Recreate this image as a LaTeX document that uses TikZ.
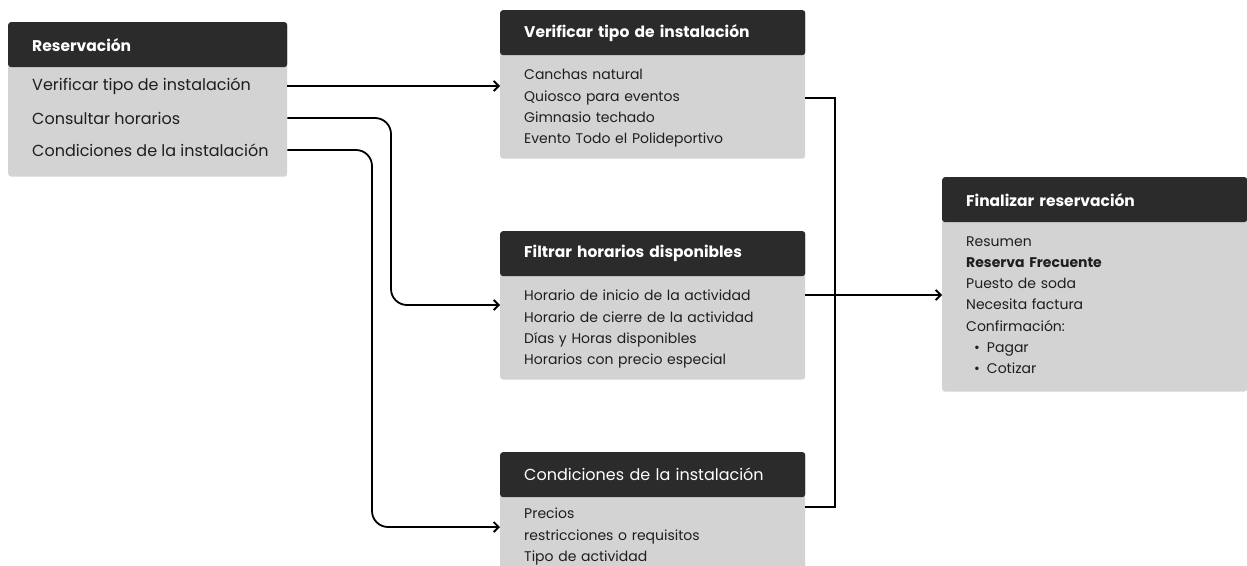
\documentclass[tikz,border=0pt]{standalone}
\usepackage{fontspec}
\setmainfont{Poppins}
\usepackage{tikz}
\usetikzlibrary{arrows.meta, positioning, calc}
\definecolor{headdark}{HTML}{2B2B2B}
\definecolor{bodygray}{HTML}{D3D3D3}
\definecolor{inkblack}{HTML}{1E1E1E}
\tikzset{
  head/.style={rectangle, rounded corners=3pt, fill=headdark, text=white,
               anchor=north west, minimum height=45pt, inner xsep=24pt,
               text width=257pt, align=left,
               font=\bfseries\fontsize{15.5}{18}\selectfont},
  body/.style={rectangle, rounded corners=3pt, fill=bodygray, text=inkblack,
               inner xsep=24pt, text width=257pt, align=left,
               font=\fontsize{14}{21.3}\selectfont},
  lowered/.style={execute at begin node={\rule{0pt}{17pt}}},
  item/.style={anchor=west, inner sep=0pt, text=inkblack,
               font=\fontsize{16}{20}\selectfont},
  arr/.style={-{Straight Barb[length=5pt,width=10pt]}, line width=1.8pt},
  link/.style={line width=1.8pt},
}
\begin{document}
\begin{tikzpicture}[x=1pt, y=-1pt]
  \useasboundingbox (0,0) rectangle (1247,565);
  \clip (0,0) rectangle (1247,565);

  % Reservacion
  \node[head, text width=231pt] (resHead) at (8,22) {Reservación};
  \node[body, text width=231pt, minimum height=113pt, below=-4pt of resHead] (res) {};
  \node[head, text width=231pt] at (8,22) {Reservación};
  \node[item] (ri1) at (32,86)  {Verificar tipo de instalación};
  \node[item] (ri2) at (32,118) {Consultar horarios};
  \node[item] (ri3) at (32,150) {Condiciones de la instalación};

  % Verificar tipo
  \node[head] (vHead) at (500,10) {Verificar tipo de instalación};
  \node[body, lowered, minimum height=107pt, below=-4pt of vHead] (vBody)
    {Canchas natural\\Quiosco para eventos\\Gimnasio techado\\Evento Todo el Polideportivo};
  \node[head] at (500,10) {Verificar tipo de instalación};

  % Filtrar horarios
  \node[head] (fHead) at (500,231) {Filtrar horarios disponibles};
  \node[body, lowered, minimum height=107pt, below=-4pt of fHead] (fBody)
    {Horario de inicio de la actividad\\Horario de cierre de la actividad\\Días y Horas disponibles\\Horarios con precio especial};
  \node[head] at (500,231) {Filtrar horarios disponibles};

  % Condiciones
  \node[head, font=\fontsize{16}{18}\selectfont] (cHead) at (500,452) {Condiciones de la instalación};
  \node[body, minimum height=86pt, below=-4pt of cHead] (cBody)
    {Precios\\restricciones o requisitos\\Tipo de actividad};
  \node[head, font=\fontsize{16}{18}\selectfont] at (500,452) {Condiciones de la instalación};

  % Finalizar
  \node[head] (finHead) at (942,177) {Finalizar reservación};
  \node[body, minimum height=173pt, below=-4pt of finHead] (fin)
    {Resumen\\\textbf{Reserva Frecuente}\\Puesto de soda\\Necesita factura\\Confirmación:\\
     \hspace*{8pt}\textbullet\hspace{7pt}Pagar\\\hspace*{8pt}\textbullet\hspace{7pt}Cotizar};
  \node[head] at (942,177) {Finalizar reservación};

  % Connectors
  \coordinate (turnH) at (391,305);
  \coordinate (turnC) at (372,527);
  \coordinate (joinTop) at (835,98);
  \coordinate (joinMid) at (835,295);
  \coordinate (joinBot) at (835,507);

  \draw[arr] (res.east |- ri1) -- (vBody.west |- ri1);
  \draw[arr, rounded corners=16pt] (res.east |- ri2) -| (turnH) -- (fBody.west |- turnH);
  \draw[arr, rounded corners=16pt] (res.east |- ri3) -| (turnC) -- (cBody.west |- turnC);

  \draw[link] (vBody.east |- joinTop) -- (joinTop) -- (joinBot) -- (cBody.east |- joinBot);
  \draw[arr] (fBody.east |- joinMid) -- (fin.west |- joinMid);
\end{tikzpicture}
\end{document}
